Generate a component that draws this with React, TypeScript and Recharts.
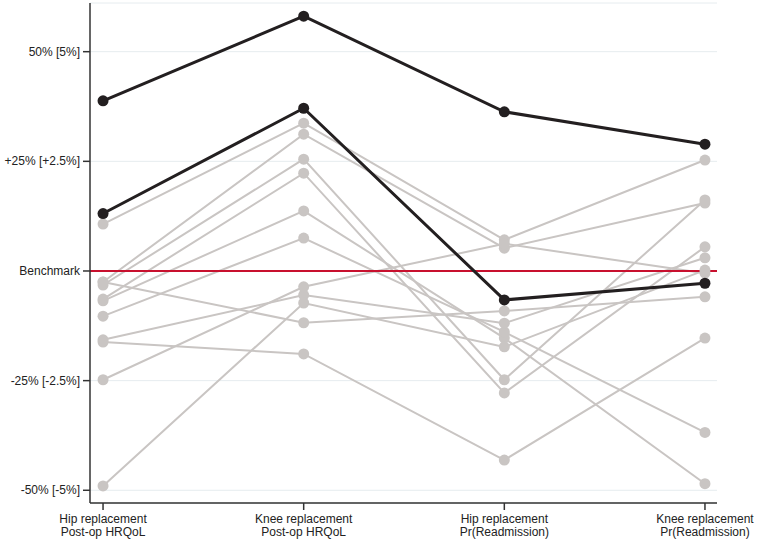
import React from 'react';
import { LineChart, Line, XAxis, YAxis, CartesianGrid, ReferenceLine } from 'recharts';

const categories = [
  ['Hip replacement', 'Post-op HRQoL'],
  ['Knee replacement', 'Post-op HRQoL'],
  ['Hip replacement', 'Pr(Readmission)'],
  ['Knee replacement', 'Pr(Readmission)'],
];

const yTicks = [-50, -25, 0, 25, 50];
const yTickLabels = ['-50% [-5%]', '-25% [-2.5%]', 'Benchmark', '+25% [+2.5%]', '50% [5%]'];

// other providers (grey)
const grey1 = [10.7, 33.7, 7.1, 25.3];
const grey2 = [-2.5, 31.2, 5.2, 15.5];
const grey3 = [-3.2, 25.5, -24.8, 16.2];
const grey4 = [-2.5, -11.8, -9.1, -5.9];
const grey5 = [-6.4, 22.3, -27.8, 5.5];
const grey6 = [-6.8, 13.7, -15.3, -48.5];
const grey7 = [-10.3, 7.5, -13.9, -36.8];
const grey8 = [-15.7, -5.5, -11.9, 3.0];
const grey9 = [-16.2, -18.9, -43.1, -15.3];
const grey10 = [-24.8, -3.6, 6.2, -0.5];
const grey11 = [-49.0, -7.3, -17.3, 0.2];

// highlighted providers (black)
const black1 = [38.8, 58.1, 36.3, 28.9];
const black2 = [13.1, 37.1, -6.6, -2.8];

const greySeries = [grey1, grey2, grey3, grey4, grey5, grey6, grey7, grey8, grey9, grey10, grey11];
const blackSeries = [black1, black2];

const data = categories.map((_, i) => {
  const row: Record<string, number> = { x: i };
  greySeries.forEach((s, j) => (row['g' + j] = s[i]));
  blackSeries.forEach((s, j) => (row['b' + j] = s[i]));
  return row;
});

const GREY = '#c9c5c3';
const BLACK = '#231f20';
const FONT = 'Liberation Sans, Arial, sans-serif';

const XTick = (props: any) => {
  const { x, y, payload } = props;
  const lines = categories[payload.value] || [];
  return (
    <text x={x} y={y} textAnchor="middle" fill="#222" fontSize={12} fontFamily={FONT}>
      {lines.map((l, k) => (
        <tspan key={k} x={x} dy={k === 0 ? 11 : 13}>{l}</tspan>
      ))}
    </text>
  );
};

const YTick = (props: any) => {
  const { x, y, payload } = props;
  return (
    <text x={x} y={y} dy={4} textAnchor="end" fill="#222" fontSize={12} fontFamily={FONT}>
      {yTickLabels[yTicks.indexOf(payload.value)]}
    </text>
  );
};

export default function App() {
  return (
    <div style={{ position: 'absolute', left: 0, top: 0, background: '#fff' }}>
      <LineChart width={757} height={544} data={data} margin={{ top: 3, right: 40, bottom: 0, left: 0 }}>
        <CartesianGrid horizontal vertical={false} stroke="#e6ecef" strokeWidth={1} />
        <XAxis
          dataKey="x"
          type="number"
          domain={[-0.065, 3.06]}
          ticks={[0, 1, 2, 3]}
          tick={<XTick />}
          tickSize={7}
          height={41}
          stroke="#333"
          strokeWidth={1.5}
          allowDataOverflow
        />
        <YAxis
          type="number"
          domain={[-52.9, 61.1]}
          ticks={yTicks}
          width={90}
          tickSize={7}
          tickMargin={3}
          stroke="#333"
          strokeWidth={1.5}
          tick={<YTick />}
          allowDataOverflow
        />
        {greySeries.map((_, j) => (
          <Line
            key={'g' + j}
            dataKey={'g' + j}
            stroke={GREY}
            strokeWidth={2}
            dot={{ r: 5.5, fill: GREY, stroke: 'none' }}
            activeDot={false}
            isAnimationActive={false}
          />
        ))}
        <ReferenceLine y={0} stroke="#c8102e" strokeWidth={2} />
        {blackSeries.map((_, j) => (
          <Line
            key={'b' + j}
            dataKey={'b' + j}
            stroke={BLACK}
            strokeWidth={3}
            dot={{ r: 5.5, fill: BLACK, stroke: 'none' }}
            activeDot={false}
            isAnimationActive={false}
          />
        ))}
      </LineChart>
    </div>
  );
}
